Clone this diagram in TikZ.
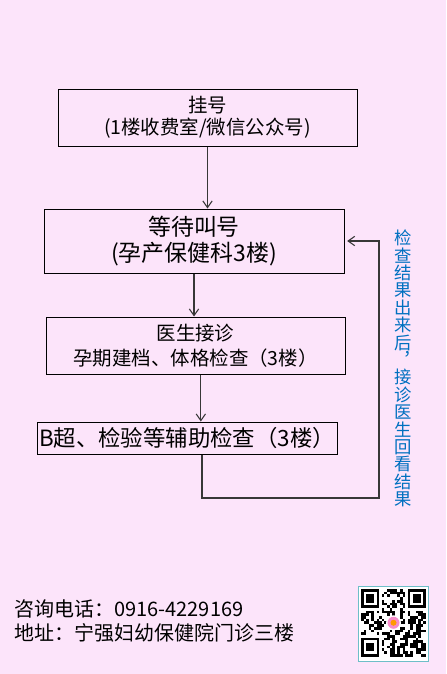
\documentclass[tikz,border=0pt]{standalone}
\usepackage{fontspec}
\setmainfont{Noto Sans CJK SC}
\usetikzlibrary{arrows.meta}
\definecolor{bgpink}{RGB}{252,228,250}
\definecolor{noteblue}{RGB}{0,112,192}
\definecolor{qrframe}{RGB}{110,190,200}
\definecolor{linegray}{RGB}{55,55,55}
\begin{document}
\begin{tikzpicture}[x=0.75pt,y=-0.75pt,
  stepbox/.style={draw,line width=0.75pt,align=center,inner sep=0pt},
  flow/.style={-{Straight Barb[length=5pt,width=7pt]},line width=0.8pt,draw=linegray}]
  \fill[bgpink] (0,0) rectangle (446,674);
  \useasboundingbox (0,0) rectangle (446,674);
  % flow boxes
  \node[stepbox,minimum width=224.25pt,minimum height=42.75pt,font=\fontsize{14.6}{16.5}\selectfont] (reg) at (207.5,117.5) {挂号\\(1楼收费室/微信公众号)};
  \node[stepbox,minimum width=225pt,minimum height=48pt,font=\fontsize{17.2}{20}\selectfont] (wait) at (194,241) {等待叫号\\(孕产保健科3楼)};
  \node[stepbox,minimum width=224.25pt,minimum height=42.75pt,font=\fontsize{14.6}{18.5}\selectfont] (doc) at (195.5,345.5) {医生接诊\\孕期建档、体格检查（3楼）};
  \node[stepbox,text width=222pt,inner xsep=1.5pt,minimum height=24pt,align=left,font=\fontsize{16.8}{19}\selectfont] (exam) at (187,438) {B超、检验等辅助检查（3楼）};
  \coordinate (loop) at (379,498);
  \draw[flow] (reg) -- (reg.south |- wait.north);
  \draw[flow] (wait) -- (wait.south |- doc.north);
  \draw[flow] ([xshift=4pt]doc.south) -- ([xshift=4pt]doc.south |- exam.north);
  \draw[flow,shorten >=2pt] ([xshift=11.25pt]exam.south) |- (loop) |- (wait.east);
  % side note
  \node[text=noteblue,align=center,inner sep=0pt,font=\fontsize{13}{13.05}\selectfont] (note) at (403,368.5)
    {检\\查\\结\\果\\出\\来\\后\\︐\\接\\诊\\医\\生\\回\\看\\结\\果};
  % contact
  \node[anchor=west,align=left,inner sep=0pt,font=\fontsize{15}{18}\selectfont] (info) at (14,621)
    {咨询电话：0916-4229169\\地址：宁强妇幼保健院门诊三楼};
  % qr code
  \draw[qrframe,fill=white,line width=0.75pt] (358,586) rectangle (428,661);
  \pgfmathsetseed{11}
  \foreach \i in {0,...,24} {
    \foreach \j in {0,...,24} {
      \pgfmathtruncatemacro\qrskip{((\i<8)&&(\j<8))||((\i>16)&&(\j<8))||((\i<8)&&(\j>16))||((\i>9)&&(\i<15)&&(\j>9)&&(\j<15))}
      \pgfmathrandominteger{\qrbit}{0}{1}
      \ifnum\qrskip=0 \ifnum\qrbit=1
        \fill (361+2.6*\i,589+2.7*\j) rectangle ++(2.6,2.7);
      \fi\fi
    }
  }
  \foreach \qx/\qy in {0/0,18/0,0/18} {
    \fill (361+2.6*\qx,589+2.7*\qy) rectangle ++(18.2,18.9);
    \fill[white] (361+2.6*\qx+2.6,589+2.7*\qy+2.7) rectangle ++(13,13.5);
    \fill (361+2.6*\qx+5.2,589+2.7*\qy+5.4) rectangle ++(7.8,8.1);
  }
  \fill[white] (393.5,622.75) circle (7.5);
  \fill[magenta!45] (393.5,622.75) circle (6);
  \fill[orange!80!yellow] (393.5,622.75) circle (3);
\end{tikzpicture}
\end{document}
